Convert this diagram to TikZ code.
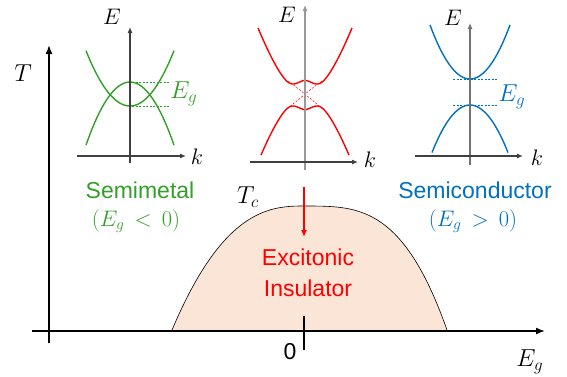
\RequirePackage{fix-cm}
\documentclass[tikz,border=0pt]{standalone}
\usepackage{fontspec}
\setmainfont{Liberation Sans}
\usepackage{amsmath}
\usepackage{graphicx}
\usetikzlibrary{arrows.meta}
\definecolor{smgreen}{RGB}{50,160,40}
\definecolor{scblue}{RGB}{0,112,192}
\definecolor{eifill}{RGB}{251,229,214}
\newcommand{\mlab}[1]{\scalebox{1.3}{$#1$}}
\newcommand{\blab}[1]{\scalebox{1.42}{$#1$}}

\begin{document}
\begin{tikzpicture}[x=1pt,y=-1pt,
    mainaxis/.style={line width=1.6pt,-{Latex[length=9pt,width=7pt]}},
    baxis/.style={line width=1.1pt,-{Latex[length=6pt,width=5pt]}},
    band/.style={line width=1.4pt},
    gapline/.style={line width=0.5pt,dash pattern=on 2pt off 1.5pt},
    mlbl/.style={font=\fontsize{17.28}{21}\selectfont,inner sep=0pt},
    tlbl/.style={font=\fontsize{23}{31}\selectfont,align=center},
    declare function={ee(\t)=0.236*(abs(\t)*sqrt(abs(\t))-41.6);
                      domeL(\t)=330-124*(1-(abs(\t)+0.0001)^2.5);
                      domeR(\t)=330-124*(1-(abs(\t)+0.0001)^3.3);}]
    \useasboundingbox (0,0) rectangle (567,376);

    % --- PHASE DIAGRAM ---
    \fill[eifill] plot[domain=-1:0,samples=50] ({303+131*\x},{domeL(\x)})
        -- plot[domain=0:1,samples=50] ({303+144*\x},{domeR(\x)}) -- cycle;
    \draw[line width=0.6pt] plot[domain=-1:0,samples=50] ({303+131*\x},{domeL(\x)})
        -- plot[domain=0:1,samples=50] ({303+144*\x},{domeR(\x)});
    \coordinate (Tbot) at (49,343);
    \coordinate (Ttop) at (49,45);
    \coordinate (Egl) at (32,331);
    \coordinate (Egr) at (545,331);
    \draw[mainaxis] (Tbot) -- (Ttop);
    \draw[mainaxis] (Egl) -- (Egr);
    \coordinate (tickT) at (304,316);
    \coordinate (tickB) at (304,350);
    \draw[line width=2.2pt] (tickT) -- (tickB);
    \node[mlbl] (T) at (23,73) {\blab{T}};
    \node[mlbl] (Eg) at (530,362) {\blab{E_g}};
    \node[tlbl] (zero) at (290,352) {0};
    \node[mlbl] (Tc) at (248,197) {\blab{T_c}};
    \node[tlbl,text=red] (EI) at (308,273) {Excitonic\\Insulator};
    \coordinate (arrS) at (304,187);
    \coordinate (arrE) at (304,237);
    \draw[red,line width=1.3pt,-{Latex[length=7pt,width=6pt]}] (arrS) -- (arrE);

    % --- LEFT BANDS (SEMIMETAL) ---
    \draw[band,smgreen] plot[domain=-44:44,samples=40] ({130+\x},{106-0.0286*\x*\x});
    \draw[band,smgreen] plot[domain=-44:44,samples=40] ({130+\x},{82+0.0326*\x*\x});
    \draw[gapline,smgreen] (132,82) -- (170,82);
    \draw[gapline,smgreen] (132,106) -- (170,106);
    \draw[baxis,black!75] (130,163) -- (130,27);
    \draw[baxis,black!75] (77,156) -- (186,156);
    \node[mlbl] (LE) at (112,17) {\mlab{E}};
    \node[mlbl] (Lk) at (197,157) {\mlab{k}};
    \node[mlbl,text=smgreen] (LEg) at (184,94) {\blab{E_g}};
    \node[tlbl,text=smgreen] (SM) at (140,190) {Semimetal};
    \node[mlbl,text=smgreen] (SMc) at (136,221) {\mlab{(E_g\,<\,0)}};

    % --- MIDDLE BANDS (HYBRIDIZED) ---
    \draw[band,red] plot[domain=-47:47,samples=95] ({305+\x},{95-sqrt(ee(\x)*ee(\x)+121)});
    \draw[band,red] plot[domain=-44:44,samples=89] ({305+\x},{95+sqrt(ee(\x)*ee(\x)+121)});
    \draw[gapline,red] (288,81) .. controls (297,87) and (313,101) .. (323,109);
    \draw[gapline,red] (322,81) .. controls (313,87) and (297,101) .. (287,109);
    \draw[baxis,black!40] (305,170) -- (305,5);
    \draw[baxis,black!75] (250,162) -- (358,162);
    \node[mlbl] (ME) at (287,15) {\mlab{E}};
    \node[mlbl] (Mk) at (370,160) {\mlab{k}};

    % --- RIGHT BANDS (SEMICONDUCTOR) ---
    \draw[band,scblue] plot[domain=-40:40,samples=40] ({470+\x},{79-0.0338*\x*\x});
    \draw[band,scblue] plot[domain=-38:38,samples=40] ({470+\x},{105+0.0329*\x*\x});
    \draw[gapline,scblue] (453,79) -- (498,79);
    \draw[gapline,scblue] (453,105) -- (498,105);
    \draw[baxis,black!55] (470,165) -- (470,23);
    \draw[baxis,black!75] (415,156) -- (523,156);
    \node[mlbl] (RE) at (453,18) {\mlab{E}};
    \node[mlbl] (Rk) at (537,158) {\mlab{k}};
    \node[mlbl,text=scblue] (REg) at (512,97) {\blab{E_g}};
    \node[tlbl,text=scblue] (SC) at (475,190) {Semiconductor};
    \node[mlbl,text=scblue] (SCc) at (473,221) {\mlab{(E_g\,>\,0)}};
\end{tikzpicture}
\end{document}
